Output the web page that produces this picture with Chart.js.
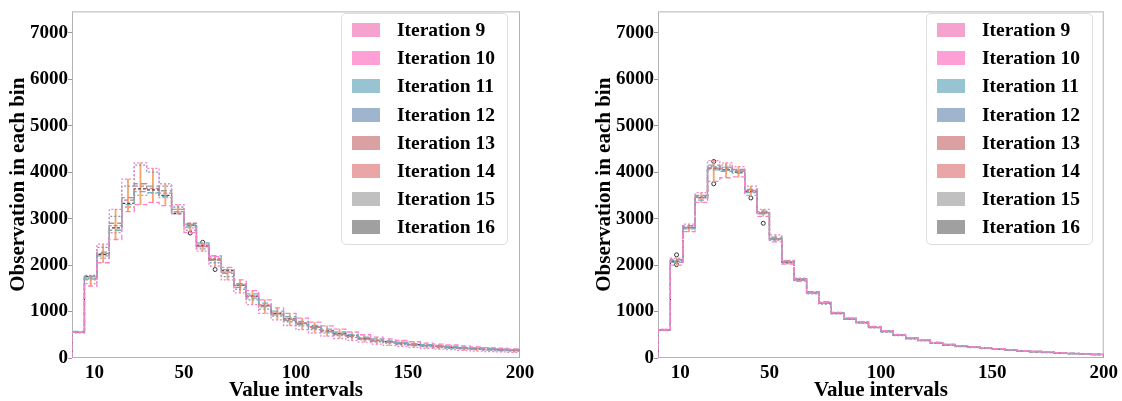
<!DOCTYPE html>
<html lang="en">
<head>
<meta charset="UTF-8">
<title>Observation in each bin</title>
<script src="https://cdn.jsdelivr.net/npm/chart.js"></script>
<style>
  body { margin: 0; width: 1122px; height: 401px; background: #fff; position: relative; overflow: hidden;
         font-family: "Liberation Serif", "Times New Roman", serif; }
  .wrap { position: absolute; top: 0; height: 401px; }
  .legend { position: absolute; border: 1px solid #dedede; border-radius: 5px; background: rgba(255,255,255,0.85);
            padding: 2px 12px 2px 10px; }
  .legend div { height: 28.2px; display: flex; align-items: center; font-weight: bold; font-size: 19.5px; white-space: nowrap; color: #000; }
  .legend span { display: inline-block; width: 28px; height: 14px; margin-right: 17px; }
</style>
</head>
<body>
<div class="wrap" style="left:0; width:540px;"><canvas id="leftChart" width="540" height="401"></canvas></div>
<div class="wrap" style="left:586px; width:536px;"><canvas id="rightChart" width="536" height="401"></canvas></div>
<div class="legend" id="leftLegend" style="right:614px; top:13px;"></div>
<div class="legend" id="rightLegend" style="right:29px; top:13px;"></div>

<script>
// legend / series styling
const iterLabels = ['Iteration 9', 'Iteration 10', 'Iteration 11', 'Iteration 12',
                    'Iteration 13', 'Iteration 14', 'Iteration 15', 'Iteration 16'];
const swatchColors = ['#f6a2cf', '#fe9fd6', '#97c4d0', '#9fb5ce', '#dba0a2', '#eaa6a6', '#c0c0c0', '#a0a0a0'];
const lineColors = ['#f284c6', '#ff7fcc', '#6fb0c2', '#7f98c2', '#c98085', '#e58a8a', '#9a9a9a', '#4a3a48'];
const lineDashes = [[2, 2], [5, 3], [6, 3], [2, 2], [4, 2], [2, 2], [6, 3], [3, 2]];

// x range of the histogram and axis ticks
const xMin = 0, xMax = 200;
const xTicks = [10, 50, 100, 150, 200];
const yTicks = [0, 1000, 2000, 3000, 4000, 5000, 6000, 7000];
const yMax = 7460;

// left panel: observations per bin (36 bins)
const left9  = [540,1600,2450,3200,3850,4200,4080,3750,3300,2800,2300,1980,1680,1400,1150,960,820,700,610,540,470,420,380,340,300,270,250,230,210,190,180,165,150,140,130,120];
const left10 = [560,1550,2050,2550,3150,3300,3350,3280,3100,2700,2450,2180,1950,1680,1450,1250,1080,960,860,770,690,620,560,500,450,410,380,350,320,300,280,260,240,225,210,195];
const left11 = [570,1700,2200,2750,3300,3580,3560,3480,3150,2820,2480,2200,1900,1600,1380,1180,1010,890,790,700,620,560,500,450,410,370,340,310,290,270,250,235,220,205,195,180];
const left12 = [550,1780,2380,3050,3700,4150,4000,3700,3250,2850,2350,2050,1750,1480,1250,1050,900,780,690,610,540,480,440,390,350,320,290,265,245,225,210,195,185,170,160,150];
const left13 = [555,1720,2250,2850,3400,3700,3650,3550,3150,2900,2400,2120,1850,1560,1320,1120,950,830,740,660,580,520,470,420,375,345,315,290,265,245,230,215,200,185,175,165];
const left14 = [545,1680,2150,2700,3250,3500,3550,3450,3200,2750,2430,2150,1900,1590,1350,1150,980,860,760,680,600,540,490,440,395,360,330,300,280,260,240,225,210,195,185,175];
const left15 = [560,1760,2280,2900,3450,3750,3700,3600,3200,2880,2400,2100,1820,1520,1290,1100,930,810,720,640,565,505,460,405,365,335,305,280,260,240,220,205,192,180,170,160];
const left16 = [550,1750,2230,2800,3330,3640,3620,3500,3110,2860,2420,2130,1880,1570,1330,1130,960,840,750,670,590,525,480,420,380,350,320,290,270,250,230,220,200,190,180,170];
const leftOutlierBins = [9, 10, 11];
const leftOutlierVals = [2690, 2490, 1905];

// right panel
const right9  = [620,2150,2880,3560,4250,4200,4120,3700,3200,2650,2100,1720,1420,1200,980,860,770,670,580,500,430,385,330,290,260,235,215,195,175,155,140,125,110,100,90,80];
const right10 = [590,2000,2720,3350,3800,3880,3900,3500,3050,2500,2020,1650,1390,1190,980,860,780,680,590,510,440,395,340,300,265,240,220,200,180,160,145,130,115,100,90,80];
const right11 = [610,2060,2780,3400,4050,4020,3980,3560,3100,2580,2080,1700,1420,1200,970,850,770,670,580,500,430,390,330,290,258,236,215,195,175,155,140,125,110,98,88,78];
const right12 = [600,2100,2820,3480,4120,4100,4050,3620,3150,2540,2040,1660,1380,1160,950,830,750,650,560,480,410,370,315,275,245,225,205,185,165,145,130,115,100,90,80,70];
const right13 = [595,2090,2810,3460,4090,4070,4020,3600,3130,2570,2070,1690,1410,1185,965,845,765,665,575,495,425,383,325,285,253,232,212,192,172,152,137,122,107,96,86,76];
const right14 = [605,2070,2790,3440,4070,4150,4030,3590,3110,2550,2050,1670,1395,1175,955,835,755,655,565,485,415,377,318,278,248,228,208,188,168,148,133,118,103,93,83,73];
const right15 = [600,2120,2850,3500,4150,4110,4060,3630,3160,2600,2090,1710,1430,1210,975,855,775,675,585,505,435,392,332,292,262,238,218,198,178,158,142,127,112,102,92,82];
const right16 = [600,2080,2800,3450,4080,4050,4000,3580,3120,2560,2060,1680,1400,1180,960,840,760,660,570,490,420,380,320,280,250,230,210,190,170,150,135,120,105,95,85,75];
const rightOutlierBins = [1, 1, 4, 4, 7, 8];
const rightOutlierVals = [2220, 2010, 4230, 3750, 3445, 2900];

const FONT = '"Liberation Serif", "Times New Roman", serif';

function stepPoints(vals) {
    const w = (xMax - xMin) / vals.length;
    const pts = [{x: xMin, y: 0}];
    vals.forEach((v, i) => pts.push({x: xMin + i * w, y: v}));
    pts.push({x: xMax, y: vals[vals.length - 1]});
    pts.push({x: xMax, y: 0});
    return pts;
}

const frame = {
    id: 'frame',
    beforeDatasetsDraw(chart) {
        const {ctx, chartArea: a} = chart;
        ctx.save();
        ctx.strokeStyle = '#b4b4b4';
        ctx.lineWidth = 1;
        ctx.strokeRect(a.left + 0.5, a.top + 0.5, a.right - a.left - 1, a.bottom - a.top - 1);
        ctx.restore();
    }
};

function makeChart(id, series, outBins, outVals, padRight) {
    const n = series[0].length;
    const w = (xMax - xMin) / n;
    const datasets = series.map((vals, k) => ({
        type: 'line',
        label: iterLabels[k],
        data: stepPoints(vals),
        stepped: true,
        borderColor: lineColors[k],
        borderDash: lineDashes[k],
        borderWidth: 1.3,
        pointRadius: 0,
        fill: false
    }));
    // spread between iterations, drawn as thin orange bars at bin centres
    const spread = [];
    for (let i = 0; i < n; i++) {
        const col = series.map(s => s[i]);
        spread.push({x: xMin + (i + 0.5) * w, y: [Math.min(...col), Math.max(...col)]});
    }
    datasets.push({
        type: 'bar',
        label: 'spread',
        data: spread,
        backgroundColor: 'rgba(245,150,80,0.85)',
        barThickness: 1.2
    });
    datasets.push({
        type: 'scatter',
        label: 'outliers',
        data: outBins.map((b, i) => ({x: xMin + (b + 0.5) * w, y: outVals[i]})),
        pointRadius: 2,
        borderColor: '#333',
        borderWidth: 1,
        backgroundColor: 'rgba(0,0,0,0)'
    });

    new Chart(document.getElementById(id), {
        type: 'line',
        data: {datasets: datasets},
        plugins: [frame],
        options: {
            responsive: false,
            animation: false,
            layout: {padding: {top: 3, right: padRight, left: 0, bottom: 0}},
            plugins: {legend: {display: false}, tooltip: {enabled: false}},
            scales: {
                x: {
                    type: 'linear',
                    min: xMin,
                    max: xMax,
                    offset: false,
                    afterBuildTicks: s => { s.ticks = xTicks.map(v => ({value: v})); },
                    afterFit: s => { s.height = 43; },
                    grid: {display: false, drawTicks: false, offset: false},
                    border: {display: false},
                    ticks: {color: '#000', padding: 4, maxRotation: 0, autoSkip: false,
                            callback: v => String(v),
                            font: {family: FONT, size: 19, weight: 'bold'}},
                    title: {display: true, text: 'Value intervals', color: '#000', padding: 0,
                            font: {family: FONT, size: 21, weight: 'bold', lineHeight: 1}}
                },
                y: {
                    type: 'linear',
                    min: 0,
                    max: yMax,
                    afterBuildTicks: s => { s.ticks = yTicks.map(v => ({value: v})); },
                    afterFit: s => { s.width = 72; },
                    grid: {drawOnChartArea: false, tickLength: 4, color: '#999'},
                    border: {display: false},
                    ticks: {color: '#000', padding: 0, autoSkip: false,
                            callback: v => String(v),
                            font: {family: FONT, size: 19, weight: 'bold'}},
                    title: {display: true, text: 'Observation in each bin', color: '#000',
                            padding: {top: 6, bottom: 0},
                            font: {family: FONT, size: 21, weight: 'bold'}}
                }
            }
        }
    });
}

function makeLegend(id) {
    const box = document.getElementById(id);
    iterLabels.forEach((lab, k) => {
        const row = document.createElement('div');
        const sw = document.createElement('span');
        sw.style.background = swatchColors[k];
        row.appendChild(sw);
        row.appendChild(document.createTextNode(lab));
        box.appendChild(row);
    });
}

makeChart('leftChart', [left9, left10, left11, left12, left13, left14, left15, left16],
          leftOutlierBins, leftOutlierVals, 20);
makeChart('rightChart', [right9, right10, right11, right12, right13, right14, right15, right16],
          rightOutlierBins, rightOutlierVals, 18);
makeLegend('leftLegend');
makeLegend('rightLegend');
</script>
</body>
</html>
